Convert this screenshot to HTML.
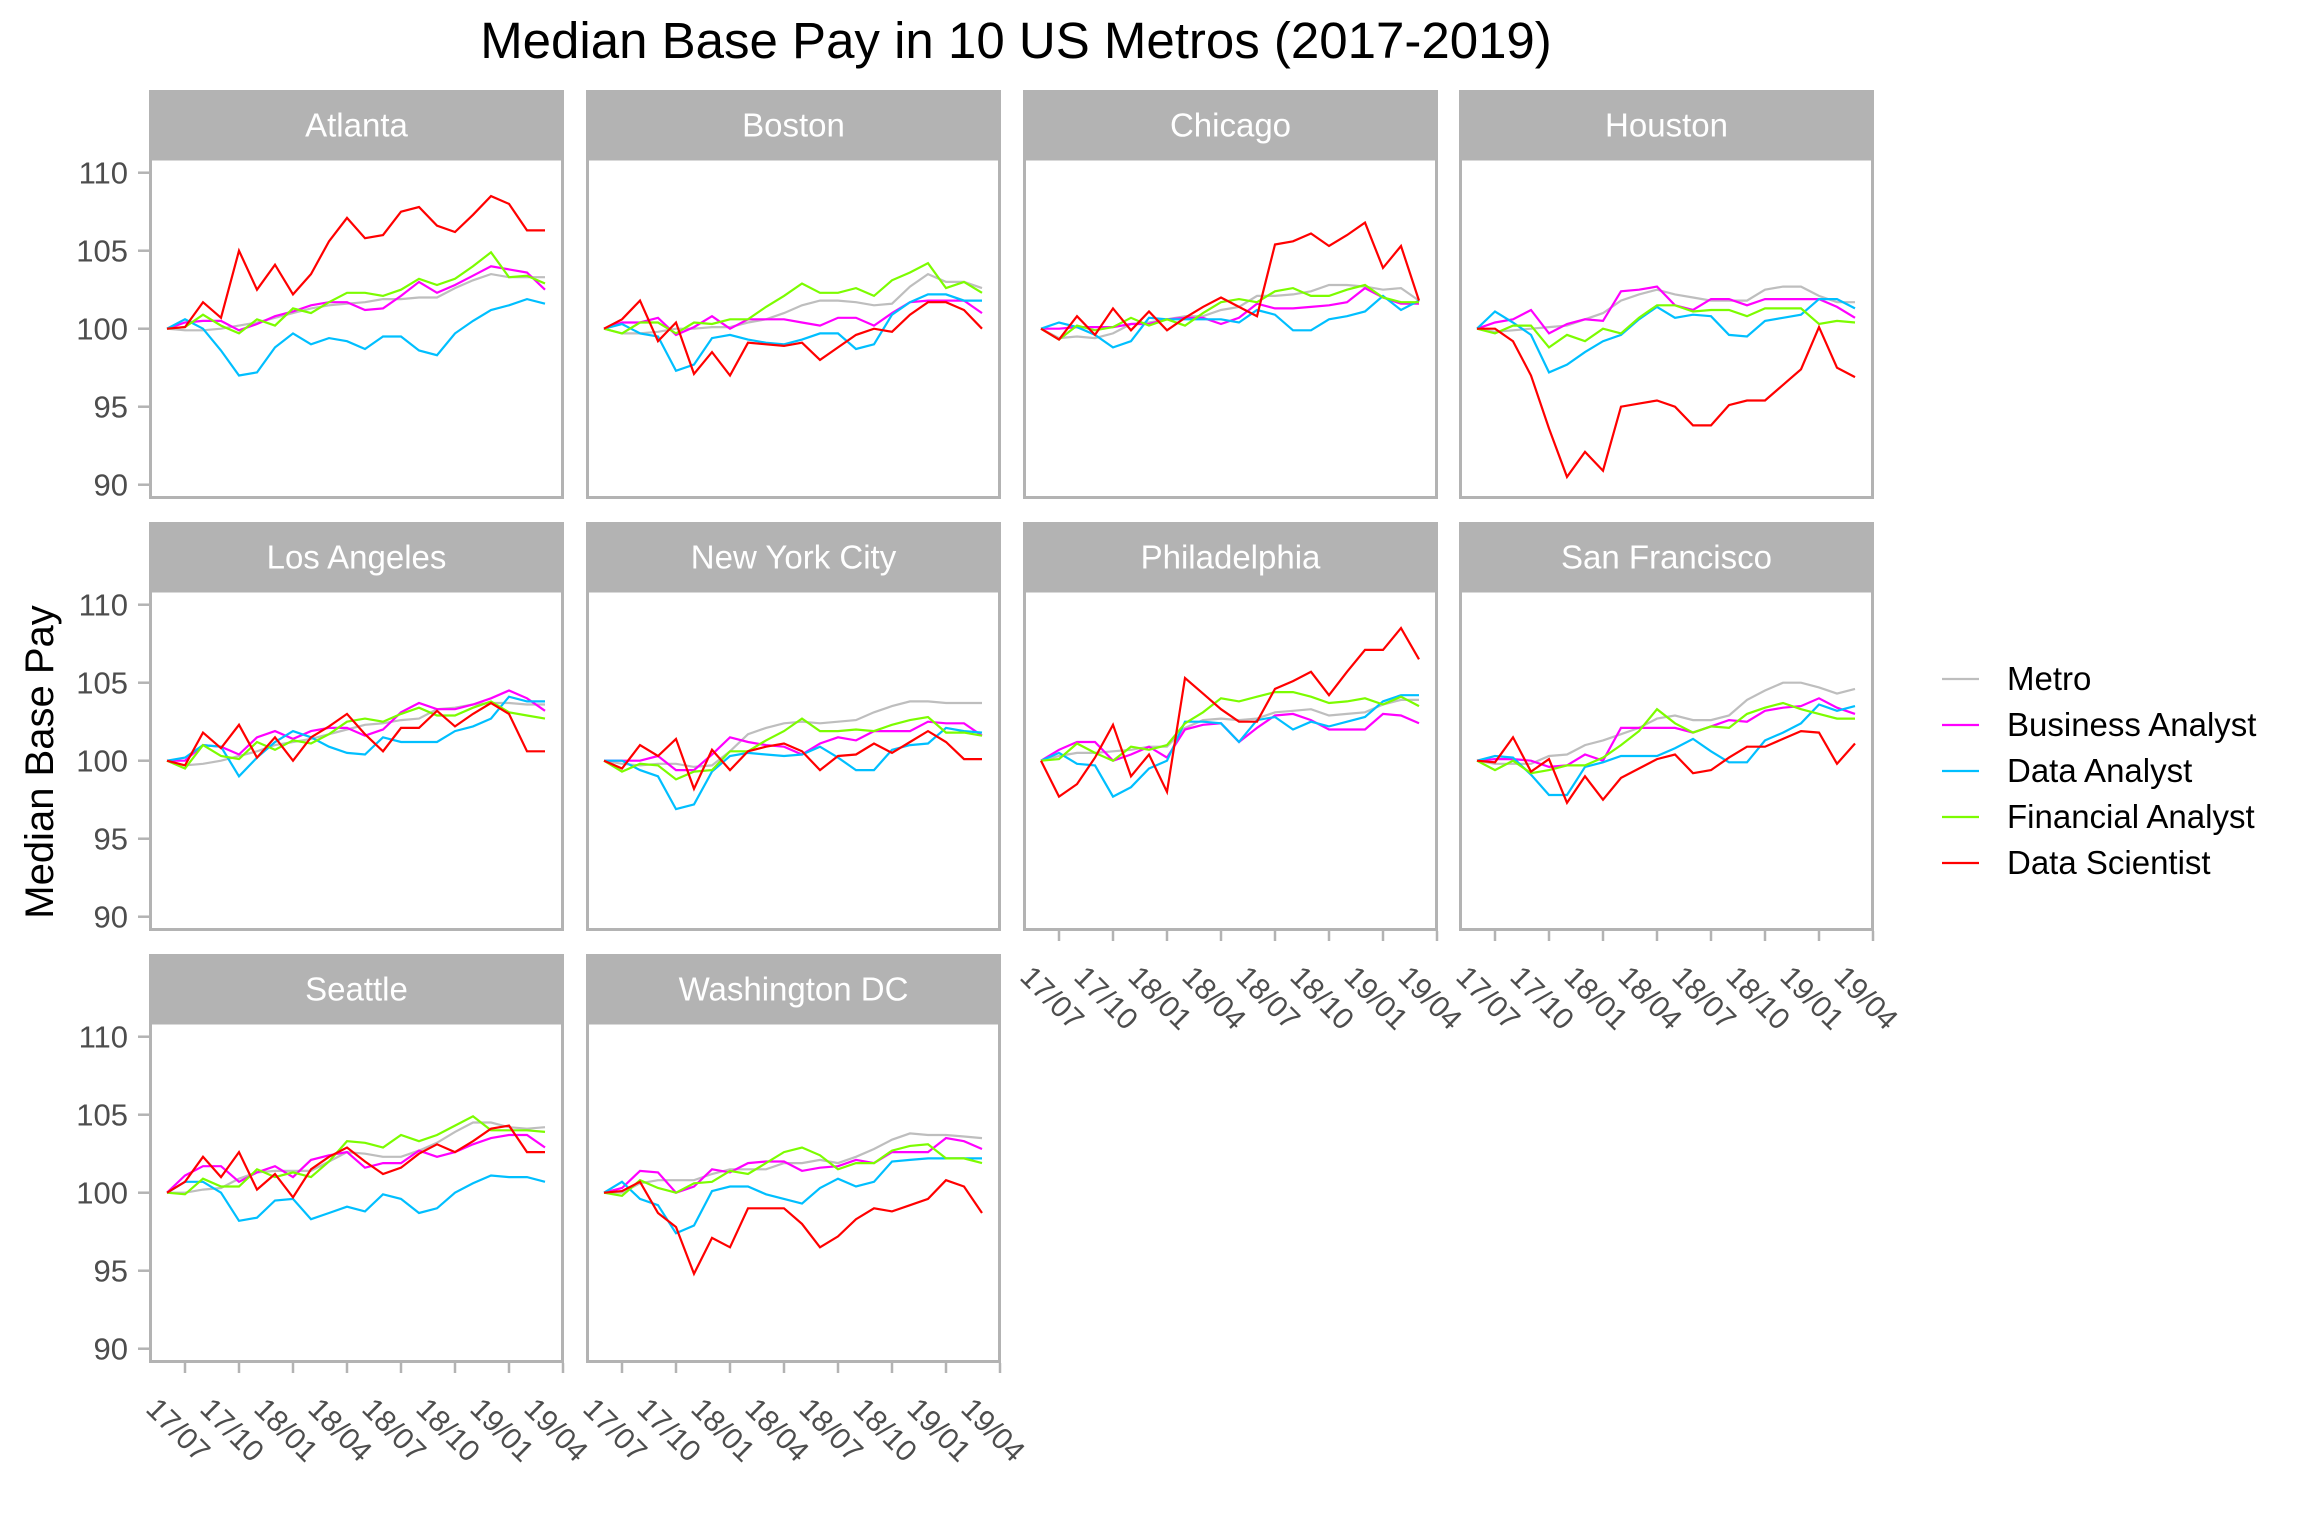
<!DOCTYPE html>
<html><head><meta charset="utf-8"><style>
html,body{margin:0;padding:0;background:#fff;}
svg{display:block;font-family:"Liberation Sans",Arial,sans-serif;}
</style></head><body>
<svg id="chart" width="2304" height="1536" viewBox="0 0 2304 1536" xmlns="http://www.w3.org/2000/svg">
<rect width="2304" height="1536" fill="#fff"/>
<text x="1016" y="58" font-size="51" text-anchor="middle" fill="#000">Median Base Pay in 10 US Metros (2017-2019)</text>
<text transform="translate(53,762) rotate(-90)" font-size="40" text-anchor="middle" fill="#000">Median Base Pay</text>
</svg>
<script>
const metros = ["Atlanta","Boston","Chicago","Houston","Los Angeles","New York City","Philadelphia","San Francisco","Seattle","Washington DC"];
const seriesNames = ["Metro","Business Analyst","Data Analyst","Financial Analyst","Data Scientist"];
const yTicks = [90,95,100,105,110];
const xTickLabels = ["17/07","17/10","18/01","18/04","18/07","18/10","19/01","19/04"];
const metroSeries = [
[100,99.9,99.9,100,100.2,100.4,100.7,101,101.3,101.5,101.6,101.7,101.9,101.9,102,102,102.6,103.1,103.5,103.3,103.3,103.3],
[100,99.7,99.7,99.8,100,100,100.1,100.1,100.4,100.6,101,101.5,101.8,101.8,101.7,101.5,101.6,102.7,103.5,103,103,102.6],
[100,99.4,99.5,99.4,99.7,100.3,100.4,100.6,100.8,100.8,101.2,101.4,102.1,102.1,102.2,102.4,102.8,102.8,102.7,102.5,102.6,101.8],
[100,99.8,99.9,100,100.1,100.2,100.6,101,101.8,102.2,102.5,102.2,102,101.8,101.8,101.8,102.5,102.7,102.7,102.1,101.7,101.7],
[100,99.7,99.8,100,100.3,100.6,101,101.2,101.4,101.7,102,102.3,102.4,102.6,102.7,103.3,103.4,103.6,103.7,103.7,103.6,103.6],
[100,99.8,99.7,99.8,99.8,99.6,99.7,100.6,101.7,102.1,102.4,102.5,102.4,102.5,102.6,103.1,103.5,103.8,103.8,103.7,103.7,103.7],
[100,100.3,100.5,100.5,100.6,100.7,100.9,100.9,102.1,102.6,102.7,102.6,102.7,103.1,103.2,103.3,102.9,103,103.1,103.6,103.9,103.9],
[100,99.8,99.8,99.8,100.3,100.4,101,101.3,101.7,102.1,102.7,102.9,102.6,102.6,102.9,103.9,104.5,105,105,104.7,104.3,104.6],
[100,100,100.2,100.3,100.9,101.3,101.4,101.4,101.4,102,102.6,102.5,102.3,102.3,102.7,103.2,103.9,104.5,104.5,104.2,104.1,104.2],
[100,100,100.6,100.8,100.8,100.8,101.2,101.5,101.5,101.5,101.9,101.9,102.1,101.9,102.3,102.8,103.4,103.8,103.7,103.7,103.6,103.5]];
const businessSeries = [
[100,100.4,100.5,100.5,99.9,100.3,100.8,101.1,101.5,101.7,101.7,101.2,101.3,102.1,103.0,102.3,102.8,103.4,104.0,103.8,103.6,102.5],
[100,100.4,100.4,100.7,99.6,100.1,100.8,100,100.6,100.6,100.6,100.4,100.2,100.7,100.7,100.2,101,101.7,101.8,101.8,101.8,101.0],
[100,100,100.1,100.1,100.1,100.3,100.3,100.6,100.7,100.7,100.3,100.7,101.6,101.3,101.3,101.4,101.5,101.7,102.6,102.0,101.6,101.6],
[100,100.4,100.6,101.2,99.7,100.3,100.6,100.5,102.4,102.5,102.7,101.5,101.2,101.9,101.9,101.5,101.9,101.9,101.9,101.9,101.4,100.7],
[100,100,101,100.9,100.4,101.5,101.9,101.4,101.9,102.1,102.1,101.6,102,103.1,103.7,103.3,103.3,103.6,104,104.5,104,103.2],
[100,100,100,100.3,99.4,99.4,100.4,101.5,101.2,101,100.9,100.4,101.1,101.5,101.3,101.9,101.9,101.9,102.5,102.4,102.4,101.6],
[100,100.7,101.2,101.2,100,100.4,100.9,100.2,102,102.3,102.4,101.2,102.1,102.9,103,102.6,102,102,102,103,102.9,102.4],
[100,100.1,100.1,100,99.6,99.7,100.4,100,102.1,102.1,102.1,102.1,101.8,102.2,102.6,102.5,103.2,103.4,103.5,104,103.4,103],
[100,101.1,101.7,101.7,100.7,101.3,101.7,101,102.1,102.4,102.6,101.6,101.9,101.9,102.7,102.3,102.6,103.1,103.5,103.7,103.7,102.9],
[100,100.3,101.4,101.3,100,100.4,101.5,101.3,101.9,102,102,101.4,101.6,101.7,102.1,101.9,102.6,102.6,102.6,103.5,103.3,102.8]];
const dataAnalystSeries = [
[100,100.6,100,98.6,97.0,97.2,98.8,99.7,99.0,99.4,99.2,98.7,99.5,99.5,98.6,98.3,99.7,100.5,101.2,101.5,101.9,101.6],
[100,100.3,99.7,99.5,97.3,97.7,99.4,99.6,99.3,99.1,99,99.3,99.7,99.7,98.7,99,100.9,101.7,102.2,102.2,101.8,101.8],
[100,100.4,100.1,99.6,98.8,99.2,100.7,100.6,100.6,100.6,100.6,100.4,101.2,100.9,99.9,99.9,100.6,100.8,101.1,102.1,101.2,101.8],
[100,101.1,100.4,99.6,97.2,97.7,98.5,99.2,99.6,100.6,101.4,100.7,100.9,100.8,99.6,99.5,100.5,100.7,100.9,101.9,101.9,101.3],
[100,100.2,101,100.9,99,100.2,101.2,101.9,101.5,100.9,100.5,100.4,101.5,101.2,101.2,101.2,101.9,102.2,102.7,104.1,103.8,103.8],
[100,100,99.4,99,96.9,97.2,99.3,100.3,100.5,100.4,100.3,100.4,100.9,100.2,99.4,99.4,100.7,101,101.1,102.1,101.9,101.8],
[100,100.5,99.8,99.7,97.7,98.3,99.5,100,102.5,102.5,102.4,101.2,102.6,102.8,102,102.5,102.2,102.5,102.8,103.8,104.2,104.2],
[100,100.3,100.2,99.1,97.8,97.8,99.6,99.9,100.3,100.3,100.3,100.8,101.4,100.6,99.9,99.9,101.3,101.8,102.4,103.6,103.2,103.5],
[100,100.7,100.7,100,98.2,98.4,99.5,99.6,98.3,98.7,99.1,98.8,99.9,99.6,98.7,99,100,100.6,101.1,101,101,100.7],
[100,100.7,99.6,99.2,97.4,97.9,100.1,100.4,100.4,99.9,99.6,99.3,100.3,100.9,100.4,100.7,102,102.1,102.2,102.2,102.2,102.2]];
const financialSeries = [
[100,100.1,100.9,100.2,99.7,100.6,100.2,101.3,101,101.7,102.3,102.3,102.1,102.5,103.2,102.8,103.2,104,104.9,103.3,103.4,102.9],
[100,99.7,100.4,100.4,99.7,100.4,100.3,100.6,100.6,101.4,102.1,102.9,102.3,102.3,102.6,102.1,103.1,103.6,104.2,102.6,103,102.3],
[100,99.3,100.2,99.9,100.1,100.7,100.2,100.6,100.2,101,101.7,101.9,101.7,102.4,102.6,102.1,102.1,102.5,102.8,102,101.7,101.7],
[100,99.7,100.2,100.2,98.8,99.6,99.2,100,99.7,100.7,101.5,101.5,101.1,101.2,101.2,100.8,101.3,101.3,101.3,100.3,100.5,100.4],
[100,99.5,101,100.3,100.1,101.2,100.7,101.3,101.1,101.7,102.5,102.7,102.5,103,103.4,102.9,102.9,103.4,103.8,103.1,102.9,102.7],
[100,99.3,99.8,99.7,98.8,99.3,99.4,100.6,100.6,101.3,101.9,102.7,101.9,101.9,102,101.9,102.3,102.6,102.8,101.8,101.8,101.6],
[100,100.1,101.1,100.5,100,100.9,100.7,101,102.4,103.1,104,103.8,104.1,104.4,104.4,104.1,103.7,103.8,104,103.6,104.1,103.5],
[100,99.4,100,99.2,99.4,99.7,99.7,100.2,101,101.9,103.3,102.4,101.8,102.2,102.1,103,103.4,103.7,103.3,103,102.7,102.7],
[100,99.9,100.9,100.4,100.4,101.5,101,101.3,101,102,103.3,103.2,102.9,103.7,103.3,103.7,104.3,104.9,104,104,104,103.9],
[100,99.8,100.8,100.3,100,100.6,100.7,101.4,101.2,101.9,102.6,102.9,102.4,101.5,101.9,101.9,102.7,103,103.1,102.2,102.2,101.9]];
const scientistSeries = [
[100,100.1,101.7,100.7,105,102.5,104.1,102.2,103.5,105.6,107.1,105.8,106.0,107.5,107.8,106.6,106.2,107.3,108.5,108.0,106.3,106.3],
[100,100.6,101.8,99.2,100.4,97.1,98.5,97.0,99.1,99.0,98.9,99.1,98.0,98.8,99.6,100.0,99.8,100.9,101.7,101.7,101.2,100.0],
[100,99.3,100.8,99.6,101.3,99.9,101.1,99.9,100.7,101.4,102,101.4,100.8,105.4,105.6,106.1,105.3,106,106.8,103.9,105.3,101.8],
[100,100,99.2,97,93.6,90.5,92.1,90.9,95,95.2,95.4,95,93.8,93.8,95.1,95.4,95.4,96.4,97.4,100.1,97.5,96.9],
[100,99.7,101.8,100.8,102.3,100.2,101.5,100,101.5,102.2,103,101.7,100.6,102.1,102.1,103.2,102.2,103,103.7,103,100.6,100.6],
[100,99.5,101,100.3,101.4,98.2,100.7,99.4,100.6,100.9,101.1,100.6,99.4,100.3,100.4,101.1,100.5,101.2,101.9,101.2,100.1,100.1],
[100,97.7,98.5,100.2,102.3,99,100.4,98,105.3,104.3,103.3,102.5,102.5,104.6,105.1,105.7,104.2,105.7,107.1,107.1,108.5,106.5],
[100,99.9,101.5,99.3,100.1,97.3,99,97.5,98.9,99.5,100.1,100.4,99.2,99.4,100.2,100.9,100.9,101.4,101.9,101.8,99.8,101.1],
[100,100.7,102.3,101,102.6,100.2,101.2,99.7,101.5,102.3,102.9,102,101.2,101.6,102.5,103.1,102.6,103.3,104.1,104.3,102.6,102.6],
[100,100.1,100.7,98.7,97.8,94.8,97.1,96.5,99,99,99,98,96.5,97.2,98.3,99,98.8,99.2,99.6,100.8,100.4,98.7]];

const NS="http://www.w3.org/2000/svg";
const svg=document.getElementById('chart');
const colors=["#bebebe","#ff00ff","#00bfff","#7cfc00","#ff0000"];
const allSeries=[metroSeries,businessSeries,dataAnalystSeries,financialSeries,scientistSeries];
const colLefts=[149,586,1023,1459], rowTops=[90,522,954];
const PW=415, SH=69, PH=409;
function mk(tag,attrs,parent){const e=document.createElementNS(NS,tag);for(const k in attrs)e.setAttribute(k,attrs[k]);(parent||svg).appendChild(e);return e;}
function xScale(col,i){return colLefts[col]+18+i*18;}
function yScale(row,v){return rowTops[row]+82.7+(110-v)*15.6;}
function slug(s){return s.toLowerCase().replace(/[^a-z0-9]+/g,'-');}

metros.forEach((m,k)=>{
  const row=Math.floor(k/4), col=k%4;
  const L=colLefts[col], T=rowTops[row];
  const g=mk('g',{});
  
  
  const strip=mk('rect',{x:L,y:T,width:PW,height:SH,fill:'#b3b3b3'},g);
  
  
  const st=mk('text',{x:L+PW/2,y:T+SH/2+12,'font-size':33,'text-anchor':'middle',fill:'#fff'},g);
  st.textContent=m;
  
  
  const bg=mk('rect',{x:L+1.5,y:T+SH,width:PW-3,height:PH-SH-1.5,fill:'#fff',stroke:'#b3b3b3','stroke-width':3},g);
  
  
  allSeries.forEach((ser,s)=>{
    const vals=ser[k];
    const pts=vals.map((v,i)=>xScale(col,i).toFixed(1)+','+yScale(row,v).toFixed(1)).join(' ');
    const pl=mk('polyline',{points:pts,fill:'none',stroke:colors[s],'stroke-width':2.2,'stroke-linejoin':'miter'},g);
    
    
  });
  if(col===0){
    yTicks.forEach(t=>{
      const y=yScale(row,t);
      mk('line',{x1:L-11,x2:L,y1:y,y2:y,stroke:'#b3b3b3','stroke-width':2.5},g);
      const tl=mk('text',{x:L-21,y:y+11,'font-size':31,'text-anchor':'end',fill:'#4d4d4d'},g);
      tl.textContent=t;
      
      
    });
  }
  const hasX = (row===2) || (row===1 && col>=2);
  if(hasX){
    const B=T+PH;
    xTickLabels.forEach((lab,j)=>{
      const x=xScale(col,1+j*3);
      mk('line',{x1:x,x2:x,y1:B,y2:B+10,stroke:'#b3b3b3','stroke-width':2.5},g);
      const tl=mk('text',{transform:'translate('+(x-14)+','+(B+74)+') rotate(45)','font-size':30,'text-anchor':'middle',fill:'#4d4d4d'},g);
      tl.textContent=lab;
      
      
    });
  }
});

const legend=mk('g',{});


seriesNames.forEach((n,s)=>{
  const y=679+s*46;
  const e=mk('g',{},legend);
  
  
  mk('line',{x1:1942,x2:1979,y1:y,y2:y,stroke:colors[s],'stroke-width':2.2},e);
  const t=mk('text',{x:2007,y:y+11,'font-size':33,fill:'#000'},e);
  t.textContent=n;
});
</script>
</body></html>
